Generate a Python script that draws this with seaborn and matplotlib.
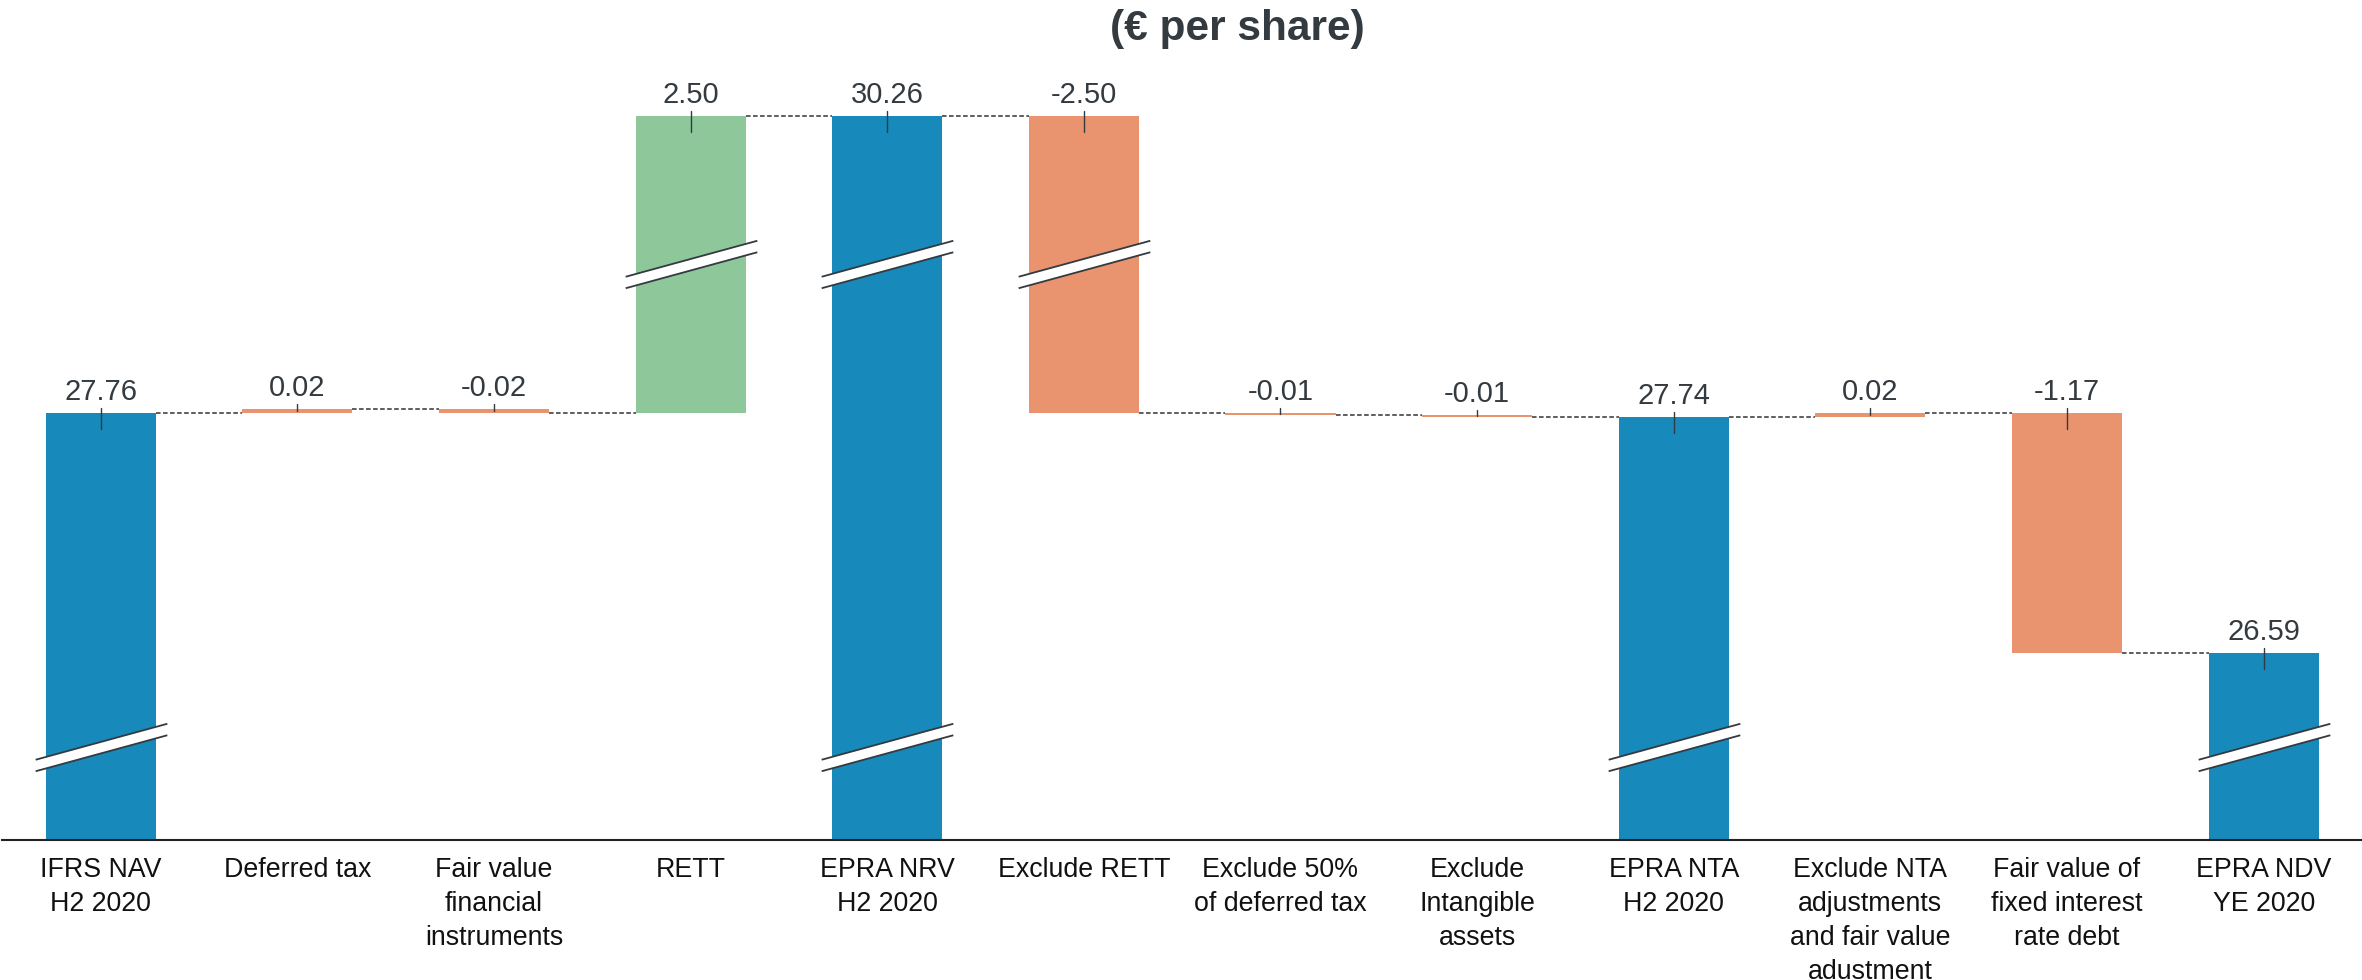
import numpy as np
import pandas as pd
import matplotlib
matplotlib.use("Agg")
import matplotlib.pyplot as plt
from matplotlib.path import Path
import seaborn as sns

# ---- data -------------------------------------------------------------
items = [
    "IFRS NAV\nH2 2020",
    "Deferred tax",
    "Fair value\nfinancial\ninstruments",
    "RETT",
    "EPRA NRV\nH2 2020",
    "Exclude RETT",
    "Exclude 50%\nof deferred tax",
    "Exclude\nIntangible\nassets",
    "EPRA NTA\nH2 2020",
    "Exclude NTA\nadjustments\nand fair value\nadustment",
    "Fair value of\nfixed interest\nrate debt",
    "EPRA NDV\nYE 2020",
]
changes = [27.76, 0.02, -0.02, 2.50, 30.26, -2.50, -0.01, -0.01, 27.74, 0.02, -1.17, 26.59]
kinds = ["total", "adjustment", "adjustment", "rett", "total", "adjustment",
         "adjustment", "adjustment", "total", "adjustment", "adjustment", "total"]

COLORS = {"total": "#1789BA", "rett": "#8DC79A", "adjustment": "#EA936F"}
TEXT_DARK = "#333a40"

# running levels of the waterfall
level = 0.0
bottoms, after = [], []
for v, k in zip(changes, kinds):
    if k == "total":
        bottoms.append(0.0)
        level = v
    else:
        bottoms.append(level)
        level = level + v
    after.append(level)

df = pd.DataFrame({"item": items, "change": changes, "kind": kinds, "bottom": bottoms})

# ---- style ------------------------------------------------------------
sns.set_style("white")
plt.rcParams["font.family"] = ["Liberation Sans", "DejaVu Sans"]

fig = plt.figure(figsize=(23.62, 9.8), dpi=100)
ax = fig.add_axes([0.001, 140 / 980, 0.999, 810.9 / 980])

BAR_W = 0.56
for kind, color in COLORS.items():
    sub = df[df["kind"] == kind]
    sns.barplot(data=sub, x="item", y="change", order=items, color=color,
                saturation=1, width=BAR_W, errorbar=None,
                bottom=sub["bottom"].to_numpy(), linewidth=0,
                edgecolor="none", ax=ax, zorder=2)

# broken value axis: compressed below 26.5 and above 27.8
KV = np.array([0.0, 26.5, 27.8, 31.0])
KD = np.array([0.0, 168.0, 435.5, 810.9])


def _piecewise(x, xs, ys):
    x = np.asarray(x, dtype=float)
    y = np.interp(x, xs, ys)
    lo_slope = (ys[1] - ys[0]) / (xs[1] - xs[0])
    hi_slope = (ys[-1] - ys[-2]) / (xs[-1] - xs[-2])
    y = np.where(x < xs[0], ys[0] + (x - xs[0]) * lo_slope, y)
    y = np.where(x > xs[-1], ys[-1] + (x - xs[-1]) * hi_slope, y)
    return y


ax.set_yscale("function", functions=(lambda v: _piecewise(v, KV, KD),
                                     lambda d: _piecewise(d, KD, KV)))
ax.set_ylim(0, 31)
ax.set_xlim(-0.5, len(items) - 0.5)

for side in ("left", "right", "top"):
    ax.spines[side].set_visible(False)
ax.spines["bottom"].set_color("#222222")
ax.spines["bottom"].set_linewidth(1.5)
ax.set_yticks([])
ax.set_xlabel("")
ax.set_ylabel("")
ax.set_xticks(range(len(items)))
ax.set_xticklabels(items, linespacing=1.4)
ax.tick_params(axis="x", length=0, pad=12, labelsize=19.3, labelcolor="#111111")

# dashed connectors between consecutive bars
half = BAR_W / 2
for i in range(len(items) - 1):
    ax.plot([i + half, i + 1 - half], [after[i], after[i]], color="#333333",
            lw=1.1, ls=(0, (3, 1.6)), zorder=1)

# axis-break marks drawn across the long bars
LOW_BREAK, HIGH_BREAK = 14.6, 29.0
band = Path([(-1, -0.186), (1, 0.3606), (1, 0.186), (-1, -0.3606), (-1, -0.186)],
            [Path.MOVETO, Path.LINETO, Path.LINETO, Path.LINETO, Path.CLOSEPOLY])
edges = Path([(-1, -0.186), (1, 0.3606), (-1, -0.3606), (1, 0.186)],
             [Path.MOVETO, Path.LINETO, Path.MOVETO, Path.LINETO])
bx, by = [], []
for i, (b, v) in enumerate(zip(bottoms, changes)):
    lo, hi = min(b, b + v), max(b, b + v)
    for brk in (LOW_BREAK, HIGH_BREAK):
        if lo < brk < hi:
            bx.append(i)
            by.append(brk)
ax.plot(bx, by, ls="none", marker=band, markersize=94.8, markerfacecolor="white",
        markeredgewidth=0, zorder=3, clip_on=False)
ax.plot(bx, by, ls="none", marker=edges, markersize=94.8, markerfacecolor="none",
        markeredgecolor=TEXT_DARK, markeredgewidth=1.3, zorder=4, clip_on=False)

# value labels with short leader ticks
to_disp = ax.transData
to_data = ax.transData.inverted()
for i, (b, v) in enumerate(zip(bottoms, changes)):
    top, low = max(b, b + v), min(b, b + v)
    t_px = to_disp.transform((i, top))[1]
    l_px = to_disp.transform((i, low))[1]
    y0 = to_data.transform((0, t_px + 5))[1]
    y1 = to_data.transform((0, t_px - min(16, (t_px - l_px) / 2)))[1]
    ax.plot([i, i], [y0, y1], color=TEXT_DARK, lw=1.0, zorder=5)
    ax.annotate(f"{v:.2f}", xy=(i, top), xytext=(0, 13 / 1.389),
                textcoords="offset points", ha="center", va="baseline",
                fontsize=21, color=TEXT_DARK, zorder=6)

fig.text(1237 / 2362, 1 - 29 / 980, "(€ per share)", ha="center", va="center",
         fontsize=30.5, fontweight="bold", color=TEXT_DARK)

fig.savefig("out.png", dpi=100, facecolor="white")
